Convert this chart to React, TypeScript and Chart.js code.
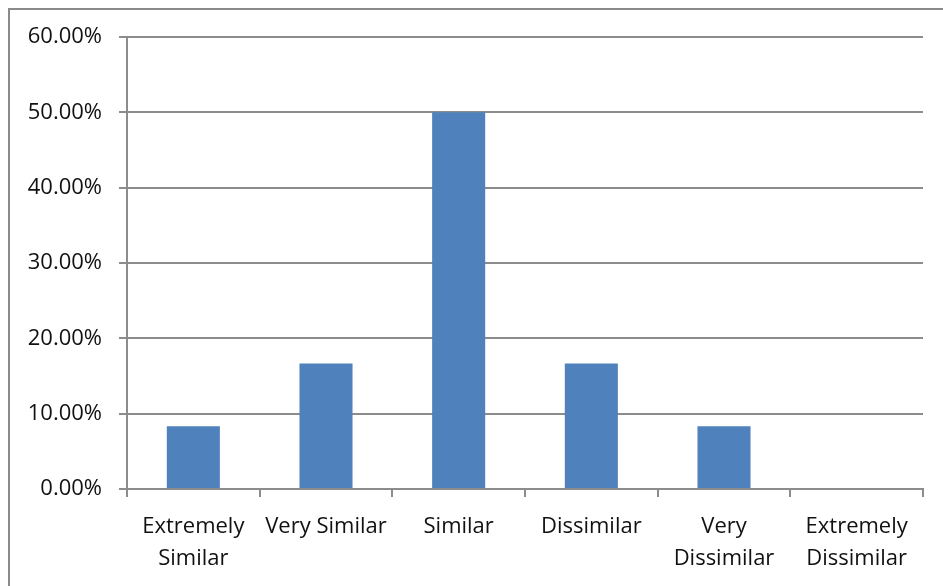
import React, { useEffect, useRef } from "react";
import { Chart, registerables } from "chart.js";

Chart.register(...registerables);

const categories: (string | string[])[] = [
  ["Extremely", "Similar"],
  "Very Similar",
  "Similar",
  "Dissimilar",
  ["Very", "Dissimilar"],
  ["Extremely", "Dissimilar"],
];
const percentValues: number[] = [8.33, 16.67, 50.0, 16.67, 8.33, 0];
const yTickMin = 0;
const yTickMax = 60;
const yTickStep = 10;

const GRID = "#8c8c8c";
const FONT = { family: "'Open Sans', sans-serif", size: 22, lineHeight: 1.45 };

export default function App() {
  const ref = useRef<HTMLCanvasElement | null>(null);

  useEffect(() => {
    if (!ref.current) return;
    const chart = new Chart(ref.current, {
      type: "bar",
      data: {
        labels: categories,
        datasets: [
          {
            data: percentValues,
            backgroundColor: "#4F81BD",
            borderWidth: 0,
            barPercentage: 0.4,
            categoryPercentage: 1,
          },
        ],
      },
      options: {
        animation: false,
        responsive: true,
        maintainAspectRatio: false,
        layout: { padding: { top: 37, right: 20, left: 0, bottom: 0 } },
        plugins: { legend: { display: false }, tooltip: { enabled: false } },
        scales: {
          x: {
            offset: true,
            grid: {
              offset: true,
              drawOnChartArea: false,
              drawTicks: true,
              tickLength: 8,
              color: GRID,
              lineWidth: 2,
            },
            border: { display: true, color: GRID, width: 2 },
            ticks: {
              color: "#111",
              font: FONT,
              padding: 14,
              maxRotation: 0,
              autoSkip: false,
            },
            afterFit: (s: any) => {
              s.height = 97;
            },
          },
          y: {
            min: yTickMin,
            max: yTickMax,
            grid: {
              drawOnChartArea: true,
              drawTicks: true,
              tickLength: 8,
              color: GRID,
              lineWidth: 2,
            },
            border: { display: true, color: GRID, width: 2 },
            ticks: {
              stepSize: yTickStep,
              color: "#111",
              font: { family: "'Open Sans', sans-serif", size: 22 },
              padding: 17,
              callback: (v: any) => Number(v).toFixed(2) + "%",
            },
            afterFit: (s: any) => {
              s.width = 127;
            },
          },
        },
      },
    });
    return () => chart.destroy();
  }, []);

  return (
    <div
      style={{
        position: "fixed",
        left: 0,
        top: 0,
        width: 943,
        height: 586,
        overflow: "hidden",
        background: "#fff",
      }}
    >
      <div
        style={{
          position: "absolute",
          left: 8,
          top: 8,
          width: 1000,
          height: 700,
          border: "2px solid #8a8a8a",
        }}
      />
      <div style={{ position: "absolute", left: 0, top: 0, width: 943, height: 586 }}>
        <canvas ref={ref} />
      </div>
    </div>
  );
}
